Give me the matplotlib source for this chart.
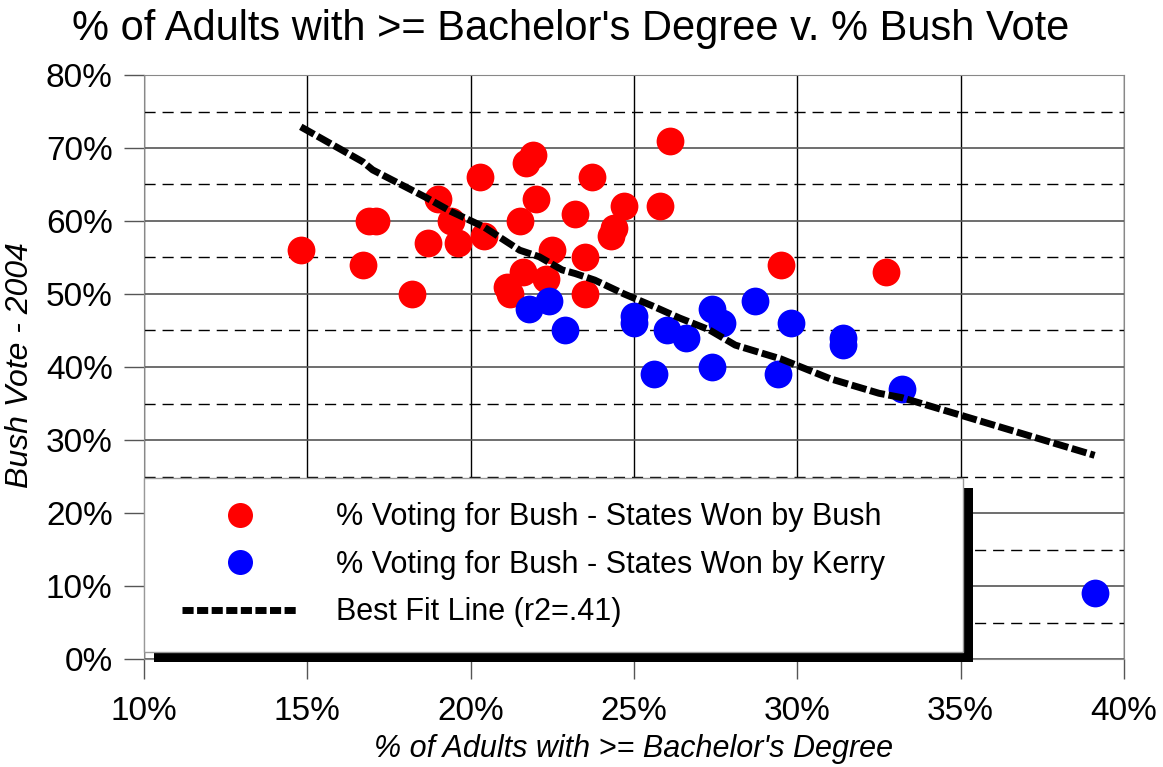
import numpy as np
import matplotlib
matplotlib.use("Agg")
import matplotlib.pyplot as plt
from matplotlib.ticker import PercentFormatter
from matplotlib.lines import Line2D
from matplotlib.patches import Rectangle
from matplotlib.transforms import IdentityTransform
from matplotlib.legend_handler import HandlerLine2D

plt.rcParams['font.family'] = ['Liberation Sans', 'DejaVu Sans']

# % with bachelor's degree (x) and % Bush vote (y), states won by Bush
bush_x = [14.8, 16.7, 16.9, 17.1, 18.2, 18.7, 19.0, 19.4, 19.6, 20.3, 20.4,
          21.9, 21.7, 23.7, 22.0, 21.5, 23.2, 24.7, 25.8, 26.1, 24.4, 24.3,
          22.5, 23.5, 21.6, 22.3, 21.1, 21.2, 23.5, 29.5, 32.7]
bush_y = [56, 54, 60, 60, 50, 57, 63, 60, 57, 66, 58,
          69, 68, 66, 63, 60, 61, 62, 62, 71, 59, 58,
          56, 55, 53, 52, 51, 50, 50, 54, 53]

# states won by Kerry
kerry_x = [21.8, 22.4, 22.9, 25.0, 25.0, 26.0, 26.6, 25.6, 27.4, 27.4,
           27.7, 28.7, 29.8, 29.4, 31.4, 31.4, 33.2, 39.1]
kerry_y = [48, 49, 45, 46, 47, 45, 44, 39, 48, 40,
           46, 49, 46, 39, 44, 43, 37, 9]

# best fit line as drawn
fit_x = [14.8, 16.7, 17.0, 18.6, 19.4, 20.4, 21.5, 22.1, 22.8, 23.2, 23.8,
         24.7, 25.6, 26.4, 27.3, 28.1, 29.5, 31.0, 32.5, 33.2, 35.0, 39.1]
fit_y = [72.9, 68.1, 67.0, 63.3, 61.3, 59.2, 56.0, 55.1, 53.3, 52.8, 51.9,
         50.0, 48.3, 46.7, 45.1, 43.0, 41.1, 38.4, 36.4, 35.8, 33.4, 27.9]

labels = ["% Voting for Bush - States Won by Bush",
          "% Voting for Bush - States Won by Kerry",
          "Best Fit Line (r2=.41)"]

fig = plt.figure(figsize=(11.63, 7.67), dpi=100)
ax = fig.add_axes([144 / 1163, 1 - 659 / 767, 980 / 1163, 584 / 767])

ax.plot(bush_x, bush_y, 'o', ls='none', color='#ff0000', ms=20, mew=0, zorder=3)
ax.plot(kerry_x, kerry_y, 'o', ls='none', color='#0000ff', ms=20, mew=0, zorder=3)
ax.plot(fit_x, fit_y, color='black', lw=5, dashes=(2.2, 0.55),
        solid_capstyle='butt', dash_capstyle='butt', zorder=4)

ax.set_xlim(10, 40)
ax.set_ylim(0, 80)
ax.set_xticks(np.arange(10, 41, 5))
ax.set_yticks(np.arange(0, 81, 10))
ax.set_yticks(np.arange(5, 80, 10), minor=True)
ax.xaxis.set_major_formatter(PercentFormatter(decimals=0))
ax.yaxis.set_major_formatter(PercentFormatter(decimals=0))
ax.tick_params(which='major', length=14.5, width=1, color='#555555', labelsize=24)
ax.tick_params(axis='x', pad=12)
ax.tick_params(axis='y', pad=8)
ax.tick_params(which='minor', length=0)

ax.xaxis.grid(True, which='major', color='black', lw=1)
ax.yaxis.grid(True, which='major', color='#555555', lw=1.2)
ax.yaxis.grid(True, which='minor', color='black', lw=1, ls=(0, (8, 5)))
ax.set_axisbelow(True)
for s in ax.spines.values():
    s.set_color('#888888')

fig.text(571 / 1163, 1 - 29 / 767, "% of Adults with >= Bachelor's Degree v. % Bush Vote",
         ha='center', va='center', fontsize=30)
ax.set_xlabel("% of Adults with >= Bachelor's Degree", fontsize=22, style='italic',
              va='center')
ax.xaxis.set_label_coords(0.5, (659 - 749) / 584)
ax.set_ylabel("Bush Vote - 2004", fontsize=23, style='italic', va='center')
ax.yaxis.set_label_coords((20 - 144) / 980, 0.503)

handles = [Line2D([], [], ls='none', marker='o', color='#ff0000', ms=18, mew=0),
           Line2D([], [], ls='none', marker='o', color='#0000ff', ms=18, mew=0),
           Line2D([], [], color='black', lw=5, dashes=(1.6, 0.5))]
leg = ax.legend(handles, labels, loc='upper left', mode='expand',
                bbox_to_anchor=(0, 0.0171, 0.8357, 0.2928), borderaxespad=0,
                fontsize=22, frameon=True, fancybox=False, framealpha=1,
                edgecolor='#999999', borderpad=0.8, labelspacing=0.57,
                handlelength=4.22, handletextpad=1.28, numpoints=1,
                handler_map={Line2D: HandlerLine2D(xpad=0.45)})
leg.get_frame().set_linewidth(1)
leg.set_zorder(6)

fig.canvas.draw()
bb = leg.get_window_extent()
shadow = Rectangle((bb.x0 + 10, bb.y0 - 10), bb.width, bb.height,
                   transform=IdentityTransform(), facecolor='black',
                   edgecolor='none', clip_on=False, zorder=5.9)
ax.add_artist(shadow)

fig.savefig("out.png", dpi=100)
